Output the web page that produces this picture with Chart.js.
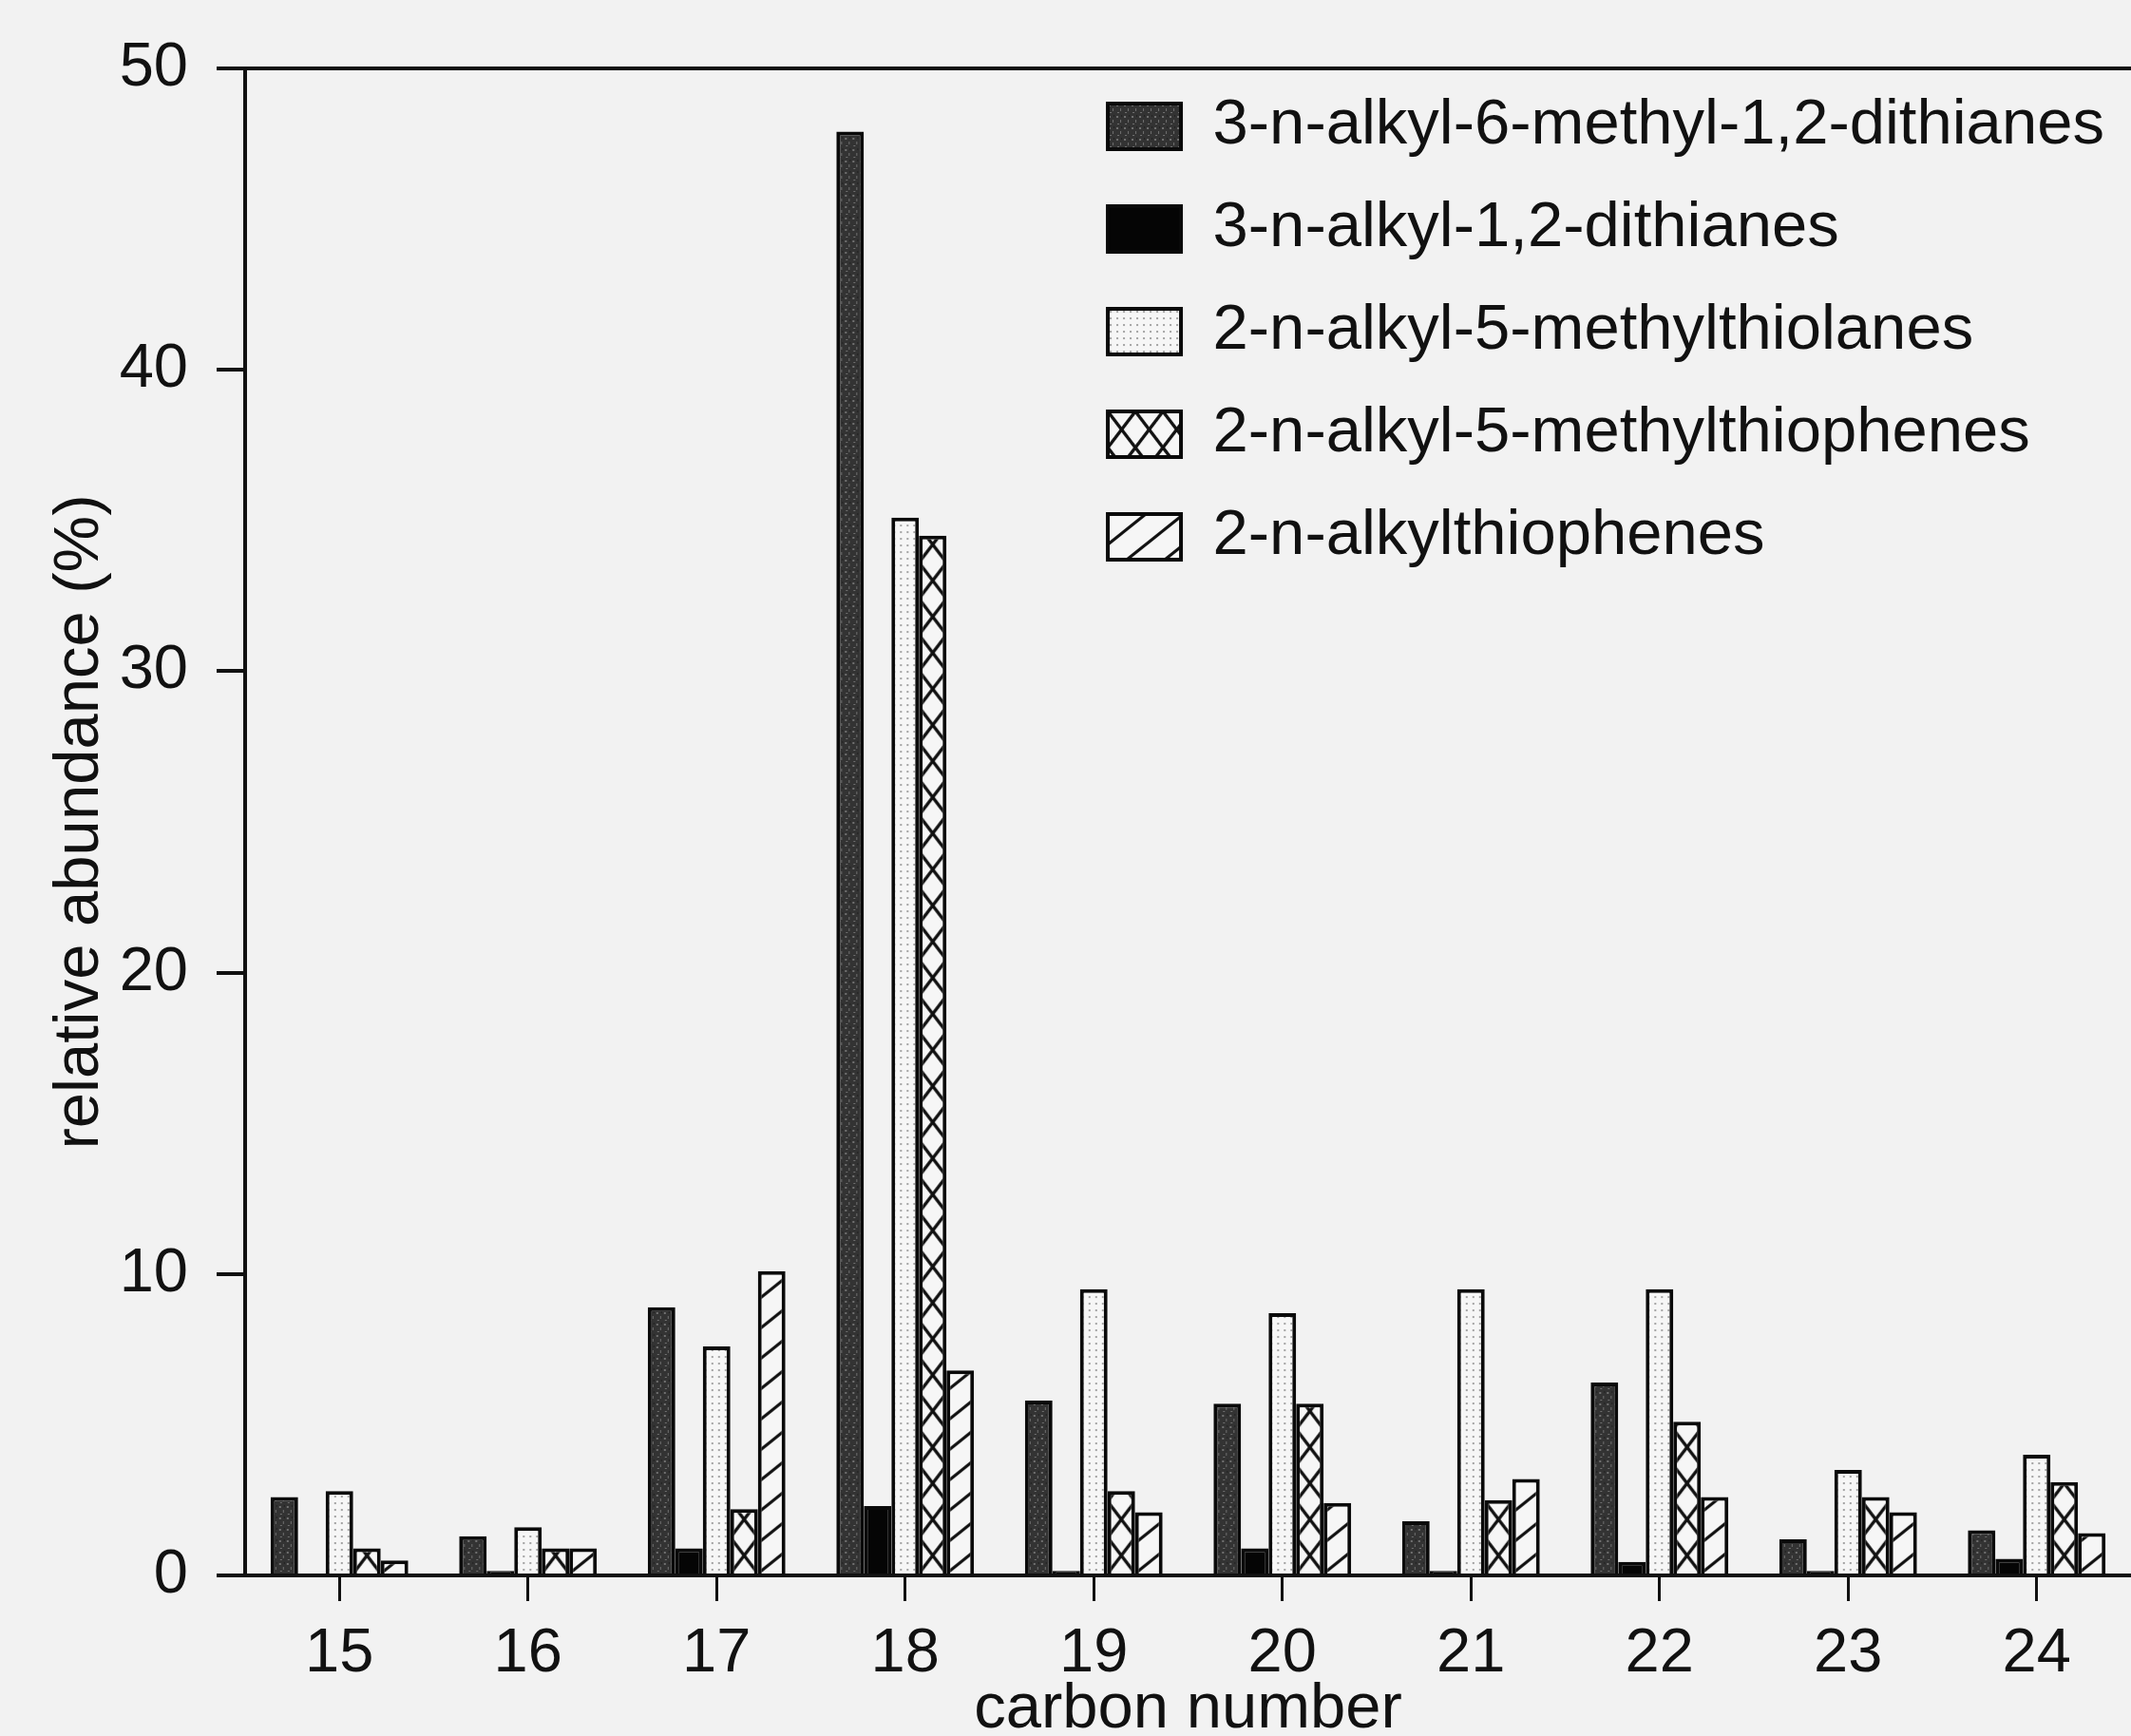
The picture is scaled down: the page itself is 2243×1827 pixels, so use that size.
<!DOCTYPE html>
<html>
<head>
<meta charset="utf-8">
<script src="https://cdn.jsdelivr.net/npm/chart.js@4/dist/chart.umd.min.js"></script>
<style>
  html, body { margin: 0; padding: 0; background: #f2f2f2; }
  canvas { display: block; }
</style>
</head>
<body>
<canvas id="c" width="2243" height="1827" style="width:2243px;height:1827px"></canvas>
<script>
// ---------------- data ----------------
const carbonNumbers = ['15', '16', '17', '18', '19', '20', '21', '22', '23', '24'];
const seriesNames = [
  '3-n-alkyl-6-methyl-1,2-dithianes',
  '3-n-alkyl-1,2-dithianes',
  '2-n-alkyl-5-methylthiolanes',
  '2-n-alkyl-5-methylthiophenes',
  '2-n-alkylthiophenes'
];
const methylDithianes  = [2.6, 1.3, 8.9, 47.9, 5.8, 5.7, 1.8, 6.4, 1.2, 1.5];
const dithianes        = [0, 0.15, 0.9, 2.3, 0.15, 0.9, 0.15, 0.45, 0.15, 0.55];
const methylThiolanes  = [2.8, 1.6, 7.6, 35.1, 9.5, 8.7, 9.5, 9.5, 3.5, 4.0];
const methylThiophenes = [0.9, 0.9, 2.2, 34.5, 2.8, 5.7, 2.5, 5.1, 2.6, 3.1];
const alkylThiophenes  = [0.5, 0.9, 10.1, 6.8, 2.1, 2.4, 3.2, 2.6, 2.1, 1.4];
const yTickValues = [0, 10, 20, 30, 40, 50];

// ---------------- styles ----------------
const FONT = '"Liberation Sans", Arial, Helvetica, sans-serif';
const INK = '#111111';
const PAPER = '#f6f6f6';
const LINE_W = 4;

function makeTile(w, h, draw) {
  const c = document.createElement('canvas');
  c.width = w; c.height = h;
  const g = c.getContext('2d');
  draw(g, w, h);
  return c;
}
const tileDark = makeTile(8, 12, (g, w, h) => {
  g.fillStyle = '#333333'; g.fillRect(0, 0, w, h);
  g.fillStyle = '#707070';
  g.fillRect(1, 1, 2, 2); g.fillRect(5, 5, 1, 3); g.fillRect(2, 9, 2, 1);
  g.fillStyle = '#222'; g.fillRect(6, 0, 1, 2);
});
const tileDots = makeTile(7, 7, (g, w, h) => {
  g.fillStyle = PAPER; g.fillRect(0, 0, w, h);
  g.fillStyle = '#a4a4a4'; g.fillRect(2, 2, 2, 2);
});
const tileCross = makeTile(29, 38, (g, w, h) => {
  g.fillStyle = PAPER; g.fillRect(0, 0, w, h);
  g.strokeStyle = '#111'; g.lineWidth = 3.4;
  for (let k = -1; k <= 1; k++) {
    g.beginPath(); g.moveTo(-w, -h + k * h); g.lineTo(2 * w, 2 * h + k * h); g.stroke();
    g.beginPath(); g.moveTo(-w, 2 * h + k * h); g.lineTo(2 * w, -h + k * h); g.stroke();
  }
});
const tileDiag = makeTile(40, 32, (g, w, h) => {
  g.fillStyle = PAPER; g.fillRect(0, 0, w, h);
  g.strokeStyle = '#111'; g.lineWidth = 3.2;
  for (let k = -1; k <= 1; k++) {
    g.beginPath(); g.moveTo(-w, 2 * h + k * h); g.lineTo(2 * w, -h + k * h); g.stroke();
  }
});
const tiles = [tileDark, null, tileDots, tileCross, tileDiag];

function patternFill(tile) {
  return function (ctx) {
    const p = ctx.chart.ctx.createPattern(tile, 'repeat');
    const el = ctx.element;
    if (el && Number.isFinite(el.x) && Number.isFinite(el.width) && Number.isFinite(el.base)) {
      p.setTransform(new DOMMatrix().translate(el.x - el.width / 2, el.base));
    }
    return p;
  };
}

const LEG = { pad: 41, font: 67, boxW: 77, boxH: 48 };

const legendPlacer = {
  id: 'legendPlacer',
  afterLayout(chart) {
    const lg = chart.legend, a = chart.chartArea;
    if (!lg || !a) return;
    lg.left = a.left + a.width * 0.4368;
    lg.top = a.top - 13.5;
    lg.right = a.right;
    lg.bottom = a.bottom;
    lg.width = lg.right - lg.left;
    lg.height = lg.bottom - lg.top;
  }
};

const valueSets = [methylDithianes, dithianes, methylThiolanes, methylThiophenes, alkylThiophenes];
const datasets = valueSets.map((vals, i) => ({
  label: seriesNames[i],
  data: vals,
  backgroundColor: tiles[i] ? patternFill(tiles[i]) : '#050505',
  borderColor: '#0a0a0a',
  borderWidth: LINE_W,
  categoryPercentage: 0.73,
  barPercentage: 1.0
}));

const chart = new Chart(document.getElementById('c'), {
  type: 'bar',
  data: { labels: carbonNumbers, datasets },
  options: {
    responsive: false,
    animation: false,
    devicePixelRatio: 1,
    layout: { padding: { top: 72, left: 0, right: 0, bottom: 0 } },
    plugins: {
      tooltip: { enabled: false },
      legend: {
        position: 'chartArea',
        fullSize: false,
        align: 'start',
        labels: {
          boxWidth: LEG.boxW,
          boxHeight: LEG.boxH,
          padding: LEG.pad,
          color: INK,
          font: { family: FONT, size: LEG.font },
          generateLabels(chart) {
            const items = Chart.defaults.plugins.legend.labels.generateLabels(chart);
            const lg = chart.legend;
            items.forEach((it, i) => {
              it.lineWidth = LINE_W;
              it.strokeStyle = '#0a0a0a';
              const t = tiles[it.datasetIndex];
              if (!t) return;
              const p = chart.ctx.createPattern(t, 'repeat');
              if (lg && Number.isFinite(lg.left)) {
                const itemH = Math.max(LEG.font, LEG.boxH);
                p.setTransform(new DOMMatrix().translate(
                  lg.left + LEG.pad,
                  lg.top + LEG.pad + i * (itemH + LEG.pad) + (itemH - LEG.boxH) / 2));
              }
              it.fillStyle = p;
            });
            return items;
          }
        }
      }
    },
    scales: {
      x: {
        type: 'category',
        position: 'bottom',
        offset: true,
        grid: { display: true, drawOnChartArea: false, offset: false, drawTicks: true, tickLength: 27, color: INK, lineWidth: 3 },
        border: { display: true, color: INK, width: LINE_W },
        ticks: { color: INK, font: { family: FONT, size: 65 }, padding: 17, autoSkip: false, maxRotation: 0 },
        title: { display: true, text: 'carbon number', color: INK, font: { family: FONT, size: 67, lineHeight: 0.82 }, padding: 0 },
        afterFit: s => { s.height = 169; }
      },
      xTop: {
        type: 'category',
        position: 'top',
        labels: carbonNumbers,
        offset: true,
        grid: { display: false },
        ticks: { display: false },
        border: { display: true, color: INK, width: LINE_W },
        afterFit: s => { s.height = 0; }
      },
      y: {
        min: 0,
        max: 50,
        afterBuildTicks: s => { s.ticks = yTickValues.map(v => ({ value: v })); },
        ticks: { color: INK, font: { family: FONT, size: 65 }, padding: 30 },
        grid: { drawOnChartArea: false, drawTicks: true, tickLength: 30, color: INK, lineWidth: LINE_W },
        border: { display: true, color: INK, width: LINE_W },
        title: { display: true, text: 'relative abundance (%)', color: INK, font: { family: FONT, size: 67, lineHeight: 1.2 }, padding: { top: 44, bottom: 0 } },
        afterFit: s => { s.width = 258; }
      }
    }
  },
  plugins: [legendPlacer]
});
chart.update();
</script>
</body>
</html>
